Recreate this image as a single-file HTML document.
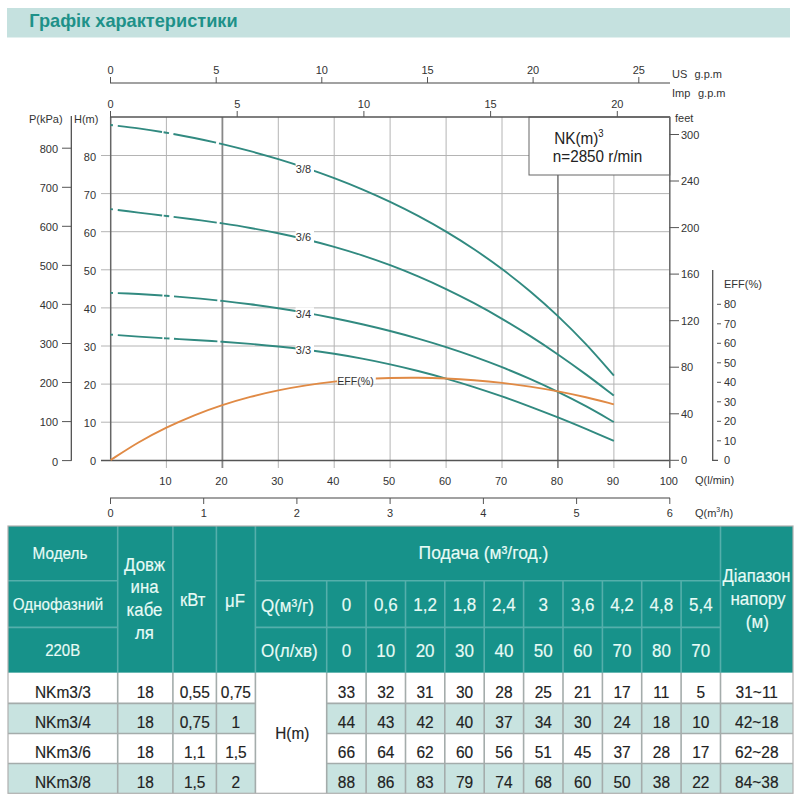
<!DOCTYPE html>
<html><head><meta charset="utf-8"><title>Графік характеристики</title>
<style>
html,body{margin:0;padding:0;background:#fff;width:800px;height:800px;overflow:hidden}
svg{display:block}
text{font-family:"Liberation Sans",sans-serif}
</style></head><body>
<svg width="800" height="800" viewBox="0 0 800 800">
<rect width="800" height="800" fill="#fff"/>
<rect x="7" y="8" width="783" height="29.5" fill="#c5e1df"/>
<text x="29.3" y="26.8" font-size="18.2" font-weight="bold" fill="#1e9189">Графік характеристики</text>
<line x1="110" y1="83" x2="670" y2="83" stroke="#444" stroke-width="1.1"/>
<line x1="110.5" y1="77" x2="110.5" y2="83" stroke="#555" stroke-width="1"/>
<text transform="translate(110.5,74.4) scale(1,1.07)" font-size="11" text-anchor="middle" fill="#333">0</text>
<line x1="216.2" y1="77" x2="216.2" y2="83" stroke="#555" stroke-width="1"/>
<text transform="translate(216.2,74.4) scale(1,1.07)" font-size="11" text-anchor="middle" fill="#333">5</text>
<line x1="321.8" y1="77" x2="321.8" y2="83" stroke="#555" stroke-width="1"/>
<text transform="translate(321.8,74.4) scale(1,1.07)" font-size="11" text-anchor="middle" fill="#333">10</text>
<line x1="427.5" y1="77" x2="427.5" y2="83" stroke="#555" stroke-width="1"/>
<text transform="translate(427.5,74.4) scale(1,1.07)" font-size="11" text-anchor="middle" fill="#333">15</text>
<line x1="533.1" y1="77" x2="533.1" y2="83" stroke="#555" stroke-width="1"/>
<text transform="translate(533.1,74.4) scale(1,1.07)" font-size="11" text-anchor="middle" fill="#333">20</text>
<line x1="638.8" y1="77" x2="638.8" y2="83" stroke="#555" stroke-width="1"/>
<text transform="translate(638.8,74.4) scale(1,1.07)" font-size="11" text-anchor="middle" fill="#333">25</text>
<text transform="translate(672,77.7) scale(1,1.07)" font-size="11" fill="#333">US</text>
<text transform="translate(694.5,77.7) scale(1,1.07)" font-size="11" fill="#333">g.p.m</text>
<text transform="translate(672,96.5) scale(1,1.07)" font-size="11" fill="#333">Imp</text>
<text transform="translate(698,96.5) scale(1,1.07)" font-size="11" fill="#333">g.p.m</text>
<line x1="110.5" y1="111" x2="110.5" y2="117" stroke="#555" stroke-width="1"/>
<text transform="translate(110.5,108) scale(1,1.07)" font-size="11" text-anchor="middle" fill="#333">0</text>
<line x1="237.2" y1="111" x2="237.2" y2="117" stroke="#555" stroke-width="1"/>
<text transform="translate(237.2,108) scale(1,1.07)" font-size="11" text-anchor="middle" fill="#333">5</text>
<line x1="363.9" y1="111" x2="363.9" y2="117" stroke="#555" stroke-width="1"/>
<text transform="translate(363.9,108) scale(1,1.07)" font-size="11" text-anchor="middle" fill="#333">10</text>
<line x1="490.6" y1="111" x2="490.6" y2="117" stroke="#555" stroke-width="1"/>
<text transform="translate(490.6,108) scale(1,1.07)" font-size="11" text-anchor="middle" fill="#333">15</text>
<line x1="617.3" y1="111" x2="617.3" y2="117" stroke="#555" stroke-width="1"/>
<text transform="translate(617.3,108) scale(1,1.07)" font-size="11" text-anchor="middle" fill="#333">20</text>
<line x1="166.4" y1="117" x2="166.4" y2="468" stroke="#b4b4b4" stroke-width="1"/>
<line x1="278.3" y1="117" x2="278.3" y2="468" stroke="#b4b4b4" stroke-width="1"/>
<line x1="334.2" y1="117" x2="334.2" y2="468" stroke="#b4b4b4" stroke-width="1"/>
<line x1="390.1" y1="117" x2="390.1" y2="468" stroke="#b4b4b4" stroke-width="1"/>
<line x1="446.1" y1="117" x2="446.1" y2="468" stroke="#b4b4b4" stroke-width="1"/>
<line x1="502.0" y1="117" x2="502.0" y2="468" stroke="#b4b4b4" stroke-width="1"/>
<line x1="613.9" y1="117" x2="613.9" y2="468" stroke="#b4b4b4" stroke-width="1"/>
<line x1="101" y1="422.2" x2="669.5" y2="422.2" stroke="#b4b4b4" stroke-width="1"/>
<line x1="101" y1="384.1" x2="669.5" y2="384.1" stroke="#b4b4b4" stroke-width="1"/>
<line x1="101" y1="346.0" x2="669.5" y2="346.0" stroke="#b4b4b4" stroke-width="1"/>
<line x1="101" y1="307.9" x2="669.5" y2="307.9" stroke="#b4b4b4" stroke-width="1"/>
<line x1="101" y1="269.8" x2="669.5" y2="269.8" stroke="#b4b4b4" stroke-width="1"/>
<line x1="101" y1="231.7" x2="669.5" y2="231.7" stroke="#b4b4b4" stroke-width="1"/>
<line x1="101" y1="193.6" x2="669.5" y2="193.6" stroke="#b4b4b4" stroke-width="1"/>
<line x1="101" y1="155.5" x2="669.5" y2="155.5" stroke="#b4b4b4" stroke-width="1"/>
<line x1="222.4" y1="117" x2="222.4" y2="468" stroke="#888" stroke-width="1.8"/>
<line x1="557.9" y1="117" x2="557.9" y2="468" stroke="#888" stroke-width="1.8"/>
<rect x="529" y="117" width="140.8" height="58" fill="#fff" stroke="#666" stroke-width="1"/>
<text transform="translate(554.2,143.7) scale(1,1.07)" font-size="15.3" fill="#222">NK(m)<tspan font-size="9.5" dy="-6.5">3</tspan></text>
<text transform="translate(552.8,162.4) scale(1,1.07)" font-size="15.25" fill="#222">n=2850 r/min</text>
<line x1="110.7" y1="117" x2="110.7" y2="460.5" stroke="#666" stroke-width="1.5"/>
<line x1="101" y1="460.5" x2="670" y2="460.5" stroke="#555" stroke-width="1.4"/>
<line x1="110" y1="117" x2="670" y2="117" stroke="#555" stroke-width="1.3"/>
<line x1="669.8" y1="117" x2="669.8" y2="468" stroke="#666" stroke-width="1.5"/>
<text transform="translate(96,465.3) scale(1,1.07)" font-size="11" text-anchor="end" fill="#333">0</text>
<text transform="translate(96,427.2) scale(1,1.07)" font-size="11" text-anchor="end" fill="#333">10</text>
<text transform="translate(96,389.1) scale(1,1.07)" font-size="11" text-anchor="end" fill="#333">20</text>
<text transform="translate(96,351.0) scale(1,1.07)" font-size="11" text-anchor="end" fill="#333">30</text>
<text transform="translate(96,312.9) scale(1,1.07)" font-size="11" text-anchor="end" fill="#333">40</text>
<text transform="translate(96,274.8) scale(1,1.07)" font-size="11" text-anchor="end" fill="#333">50</text>
<text transform="translate(96,236.7) scale(1,1.07)" font-size="11" text-anchor="end" fill="#333">60</text>
<text transform="translate(96,198.6) scale(1,1.07)" font-size="11" text-anchor="end" fill="#333">70</text>
<text transform="translate(96,160.5) scale(1,1.07)" font-size="11" text-anchor="end" fill="#333">80</text>
<text transform="translate(74,123) scale(1,1.07)" font-size="11" fill="#333">H(m)</text>
<text transform="translate(29,123) scale(1,1.07)" font-size="11" fill="#333">P(kPa)</text>
<line x1="71.3" y1="116" x2="71.3" y2="460.8" stroke="#444" stroke-width="1.2"/>
<line x1="62" y1="460.6" x2="71.5" y2="460.6" stroke="#555" stroke-width="1"/>
<text transform="translate(58,465.5) scale(1,1.07)" font-size="11" text-anchor="end" fill="#333">0</text>
<line x1="62" y1="421.6" x2="71.5" y2="421.6" stroke="#555" stroke-width="1"/>
<text transform="translate(58,426.4) scale(1,1.07)" font-size="11" text-anchor="end" fill="#333">100</text>
<line x1="62" y1="382.5" x2="71.5" y2="382.5" stroke="#555" stroke-width="1"/>
<text transform="translate(58,387.4) scale(1,1.07)" font-size="11" text-anchor="end" fill="#333">200</text>
<line x1="62" y1="343.5" x2="71.5" y2="343.5" stroke="#555" stroke-width="1"/>
<text transform="translate(58,348.4) scale(1,1.07)" font-size="11" text-anchor="end" fill="#333">300</text>
<line x1="62" y1="304.4" x2="71.5" y2="304.4" stroke="#555" stroke-width="1"/>
<text transform="translate(58,309.3) scale(1,1.07)" font-size="11" text-anchor="end" fill="#333">400</text>
<line x1="62" y1="265.4" x2="71.5" y2="265.4" stroke="#555" stroke-width="1"/>
<text transform="translate(58,270.2) scale(1,1.07)" font-size="11" text-anchor="end" fill="#333">500</text>
<line x1="62" y1="226.3" x2="71.5" y2="226.3" stroke="#555" stroke-width="1"/>
<text transform="translate(58,231.2) scale(1,1.07)" font-size="11" text-anchor="end" fill="#333">600</text>
<line x1="62" y1="187.3" x2="71.5" y2="187.3" stroke="#555" stroke-width="1"/>
<text transform="translate(58,192.2) scale(1,1.07)" font-size="11" text-anchor="end" fill="#333">700</text>
<line x1="62" y1="148.2" x2="71.5" y2="148.2" stroke="#555" stroke-width="1"/>
<text transform="translate(58,153.1) scale(1,1.07)" font-size="11" text-anchor="end" fill="#333">800</text>
<text transform="translate(165.4,485) scale(1,1.07)" font-size="11" text-anchor="middle" fill="#333">10</text>
<text transform="translate(221.4,485) scale(1,1.07)" font-size="11" text-anchor="middle" fill="#333">20</text>
<text transform="translate(277.3,485) scale(1,1.07)" font-size="11" text-anchor="middle" fill="#333">30</text>
<text transform="translate(333.2,485) scale(1,1.07)" font-size="11" text-anchor="middle" fill="#333">40</text>
<text transform="translate(389.1,485) scale(1,1.07)" font-size="11" text-anchor="middle" fill="#333">50</text>
<text transform="translate(445.1,485) scale(1,1.07)" font-size="11" text-anchor="middle" fill="#333">60</text>
<text transform="translate(501.0,485) scale(1,1.07)" font-size="11" text-anchor="middle" fill="#333">70</text>
<text transform="translate(556.9,485) scale(1,1.07)" font-size="11" text-anchor="middle" fill="#333">80</text>
<text transform="translate(612.9,485) scale(1,1.07)" font-size="11" text-anchor="middle" fill="#333">90</text>
<text transform="translate(668.8,485) scale(1,1.07)" font-size="11" text-anchor="middle" fill="#333">100</text>
<text transform="translate(695,484) scale(1,1.07)" font-size="11" fill="#333">Q(l/min)</text>
<line x1="110" y1="498" x2="670" y2="498" stroke="#444" stroke-width="1.1"/>
<line x1="110.5" y1="498" x2="110.5" y2="504" stroke="#555" stroke-width="1"/>
<text transform="translate(110.5,517) scale(1,1.07)" font-size="11" text-anchor="middle" fill="#333">0</text>
<line x1="203.7" y1="498" x2="203.7" y2="504" stroke="#555" stroke-width="1"/>
<text transform="translate(203.7,517) scale(1,1.07)" font-size="11" text-anchor="middle" fill="#333">1</text>
<line x1="296.9" y1="498" x2="296.9" y2="504" stroke="#555" stroke-width="1"/>
<text transform="translate(296.9,517) scale(1,1.07)" font-size="11" text-anchor="middle" fill="#333">2</text>
<line x1="390.1" y1="498" x2="390.1" y2="504" stroke="#555" stroke-width="1"/>
<text transform="translate(390.1,517) scale(1,1.07)" font-size="11" text-anchor="middle" fill="#333">3</text>
<line x1="483.4" y1="498" x2="483.4" y2="504" stroke="#555" stroke-width="1"/>
<text transform="translate(483.4,517) scale(1,1.07)" font-size="11" text-anchor="middle" fill="#333">4</text>
<line x1="576.6" y1="498" x2="576.6" y2="504" stroke="#555" stroke-width="1"/>
<text transform="translate(576.6,517) scale(1,1.07)" font-size="11" text-anchor="middle" fill="#333">5</text>
<line x1="669.8" y1="498" x2="669.8" y2="504" stroke="#555" stroke-width="1"/>
<text transform="translate(669.8,517) scale(1,1.07)" font-size="11" text-anchor="middle" fill="#333">6</text>
<text transform="translate(695,516.5) scale(1,1.07)" font-size="11" fill="#333">Q(m<tspan font-size="7" dy="-4">3</tspan><tspan dy="4">/h)</tspan></text>
<line x1="669.5" y1="460.3" x2="679" y2="460.3" stroke="#555" stroke-width="1"/>
<text transform="translate(681,464.3) scale(1,1.07)" font-size="11" fill="#333">0</text>
<line x1="669.5" y1="413.8" x2="679" y2="413.8" stroke="#555" stroke-width="1"/>
<text transform="translate(681,417.8) scale(1,1.07)" font-size="11" fill="#333">40</text>
<line x1="669.5" y1="367.2" x2="679" y2="367.2" stroke="#555" stroke-width="1"/>
<text transform="translate(681,371.2) scale(1,1.07)" font-size="11" fill="#333">80</text>
<line x1="669.5" y1="320.7" x2="679" y2="320.7" stroke="#555" stroke-width="1"/>
<text transform="translate(681,324.7) scale(1,1.07)" font-size="11" fill="#333">120</text>
<line x1="669.5" y1="274.1" x2="679" y2="274.1" stroke="#555" stroke-width="1"/>
<text transform="translate(681,278.1) scale(1,1.07)" font-size="11" fill="#333">160</text>
<line x1="669.5" y1="227.6" x2="679" y2="227.6" stroke="#555" stroke-width="1"/>
<text transform="translate(681,231.6) scale(1,1.07)" font-size="11" fill="#333">200</text>
<line x1="669.5" y1="181.0" x2="679" y2="181.0" stroke="#555" stroke-width="1"/>
<text transform="translate(681,185.0) scale(1,1.07)" font-size="11" fill="#333">240</text>
<line x1="669.5" y1="134.5" x2="679" y2="134.5" stroke="#555" stroke-width="1"/>
<text transform="translate(681,138.5) scale(1,1.07)" font-size="11" fill="#333">300</text>
<text transform="translate(675,122) scale(1,1.07)" font-size="11" fill="#333">feet</text>
<polyline points="712.7,270 712.7,460.3 718,460.3" fill="none" stroke="#555" stroke-width="1.3"/>
<text transform="translate(724,464.3) scale(1,1.07)" font-size="11" fill="#333">0</text>
<line x1="717" y1="440.8" x2="721" y2="440.8" stroke="#555" stroke-width="1"/>
<text transform="translate(724,444.8) scale(1,1.07)" font-size="11" fill="#333">10</text>
<line x1="717" y1="421.3" x2="721" y2="421.3" stroke="#555" stroke-width="1"/>
<text transform="translate(724,425.3) scale(1,1.07)" font-size="11" fill="#333">20</text>
<line x1="717" y1="401.8" x2="721" y2="401.8" stroke="#555" stroke-width="1"/>
<text transform="translate(724,405.8) scale(1,1.07)" font-size="11" fill="#333">30</text>
<line x1="717" y1="382.3" x2="721" y2="382.3" stroke="#555" stroke-width="1"/>
<text transform="translate(724,386.3) scale(1,1.07)" font-size="11" fill="#333">40</text>
<line x1="717" y1="362.8" x2="721" y2="362.8" stroke="#555" stroke-width="1"/>
<text transform="translate(724,366.8) scale(1,1.07)" font-size="11" fill="#333">50</text>
<line x1="717" y1="343.3" x2="721" y2="343.3" stroke="#555" stroke-width="1"/>
<text transform="translate(724,347.3) scale(1,1.07)" font-size="11" fill="#333">60</text>
<line x1="717" y1="323.8" x2="721" y2="323.8" stroke="#555" stroke-width="1"/>
<text transform="translate(724,327.8) scale(1,1.07)" font-size="11" fill="#333">70</text>
<line x1="717" y1="304.3" x2="721" y2="304.3" stroke="#555" stroke-width="1"/>
<text transform="translate(724,308.3) scale(1,1.07)" font-size="11" fill="#333">80</text>
<text transform="translate(724,288) scale(1,1.07)" font-size="11" fill="#333">EFF(%)</text>
<path d="M110.50,124.99 C115.16,125.56 129.14,127.08 138.47,128.37 C147.79,129.66 157.11,131.11 166.43,132.71 C175.75,134.31 185.07,136.07 194.39,137.97 C203.72,139.87 213.04,141.92 222.36,144.11 C231.68,146.31 241.00,148.66 250.32,151.16 C259.65,153.66 268.97,156.31 278.29,159.13 C287.61,161.95 296.93,164.93 306.25,168.09 C315.58,171.26 324.90,174.58 334.22,178.13 C343.54,181.67 352.86,185.38 362.19,189.34 C371.51,193.30 380.83,197.46 390.15,201.89 C399.47,206.32 408.79,210.96 418.12,215.92 C427.44,220.88 436.76,226.08 446.08,231.64 C455.40,237.19 464.72,243.03 474.05,249.26 C483.37,255.49 492.69,262.04 502.01,269.04 C511.33,276.03 520.65,283.38 529.98,291.24 C539.30,299.09 548.62,307.35 557.94,316.17 C567.26,324.99 576.58,334.26 585.90,344.15 C595.23,354.05 609.21,370.32 613.87,375.55" fill="none" stroke="#318a80" stroke-width="1.9" stroke-dasharray="2.5 5 44.5 1.6 5.5 4.5 43.5 3 2000"/>
<path d="M110.50,209.12 C115.16,209.70 129.14,211.45 138.47,212.59 C147.79,213.73 157.11,214.82 166.43,215.97 C175.75,217.12 185.07,218.26 194.39,219.51 C203.72,220.75 213.04,222.02 222.36,223.43 C231.68,224.84 241.00,226.31 250.32,227.95 C259.65,229.58 268.97,231.32 278.29,233.24 C287.61,235.17 296.93,237.22 306.25,239.48 C315.58,241.75 324.90,244.17 334.22,246.81 C343.54,249.46 352.86,252.29 362.19,255.35 C371.51,258.41 380.83,261.68 390.15,265.19 C399.47,268.70 408.79,272.43 418.12,276.42 C427.44,280.40 436.76,284.61 446.08,289.08 C455.40,293.54 464.72,298.25 474.05,303.21 C483.37,308.17 492.69,313.38 502.01,318.83 C511.33,324.28 520.65,329.98 529.98,335.92 C539.30,341.86 548.62,348.04 557.94,354.45 C567.26,360.86 576.58,367.51 585.90,374.37 C595.23,381.22 609.21,392.06 613.87,395.59" fill="none" stroke="#318a80" stroke-width="1.9" stroke-dasharray="2.5 5 44.5 1.6 5.5 4.5 43.5 3 2000"/>
<path d="M110.50,292.85 C115.16,293.05 129.14,293.57 138.47,294.06 C147.79,294.55 157.11,295.13 166.43,295.80 C175.75,296.47 185.07,297.23 194.39,298.08 C203.72,298.94 213.04,299.88 222.36,300.91 C231.68,301.95 241.00,303.08 250.32,304.31 C259.65,305.55 268.97,306.87 278.29,308.31 C287.61,309.75 296.93,311.28 306.25,312.93 C315.58,314.59 324.90,316.34 334.22,318.23 C343.54,320.11 352.86,322.11 362.19,324.24 C371.51,326.37 380.83,328.63 390.15,331.03 C399.47,333.43 408.79,335.96 418.12,338.65 C427.44,341.34 436.76,344.16 446.08,347.17 C455.40,350.17 464.72,353.32 474.05,356.67 C483.37,360.01 492.69,363.52 502.01,367.23 C511.33,370.94 520.65,374.83 529.98,378.94 C539.30,383.06 548.62,387.36 557.94,391.90 C567.26,396.45 576.58,401.20 585.90,406.21 C595.23,411.23 609.21,419.36 613.87,421.99" fill="none" stroke="#318a80" stroke-width="1.9" stroke-dasharray="2.5 5 44.5 1.6 5.5 4.5 43.5 3 2000"/>
<path d="M110.50,334.64 C115.16,334.98 129.14,336.02 138.47,336.64 C147.79,337.26 157.11,337.78 166.43,338.34 C175.75,338.90 185.07,339.41 194.39,339.98 C203.72,340.55 213.04,341.11 222.36,341.77 C231.68,342.42 241.00,343.10 250.32,343.89 C259.65,344.68 268.97,345.53 278.29,346.51 C287.61,347.49 296.93,348.56 306.25,349.77 C315.58,350.98 324.90,352.30 334.22,353.77 C343.54,355.25 352.86,356.85 362.19,358.61 C371.51,360.36 380.83,362.27 390.15,364.33 C399.47,366.39 408.79,368.60 418.12,370.97 C427.44,373.34 436.76,375.87 446.08,378.55 C455.40,381.23 464.72,384.06 474.05,387.04 C483.37,390.01 492.69,393.15 502.01,396.40 C511.33,399.66 520.65,403.06 529.98,406.57 C539.30,410.08 548.62,413.72 557.94,417.45 C567.26,421.17 576.58,425.02 585.90,428.92 C595.23,432.82 609.21,438.85 613.87,440.84" fill="none" stroke="#318a80" stroke-width="1.9" stroke-dasharray="2.5 5 44.5 1.6 5.5 4.5 43.5 3 2000"/>
<path d="M110.50,460.07 C115.16,457.14 129.14,447.89 138.47,442.49 C147.79,437.09 157.11,432.20 166.43,427.67 C175.75,423.14 185.07,419.06 194.39,415.30 C203.72,411.55 213.04,408.19 222.36,405.12 C231.68,402.04 241.00,399.33 250.32,396.87 C259.65,394.40 268.97,392.25 278.29,390.33 C287.61,388.41 296.93,386.76 306.25,385.32 C315.58,383.88 324.90,382.69 334.22,381.68 C343.54,380.67 352.86,379.89 362.19,379.27 C371.51,378.65 380.83,378.24 390.15,377.98 C399.47,377.73 408.79,377.66 418.12,377.74 C427.44,377.82 436.76,378.08 446.08,378.49 C455.40,378.90 464.72,379.47 474.05,380.20 C483.37,380.94 492.69,381.82 502.01,382.89 C511.33,383.95 520.65,385.17 529.98,386.57 C539.30,387.98 548.62,389.54 557.94,391.32 C567.26,393.09 576.58,395.03 585.90,397.21 C595.23,399.38 609.21,403.16 613.87,404.35" fill="none" stroke="#e08a45" stroke-width="1.9"/>
<rect x="295.6" y="162.2" width="18.4" height="14" fill="#fff"/>
<text transform="translate(303.5,173.0) scale(1,1.07)" font-size="11" text-anchor="middle" fill="#333">3/8</text>
<rect x="295.6" y="230.5" width="18.4" height="14" fill="#fff"/>
<text transform="translate(303.5,241.3) scale(1,1.07)" font-size="11" text-anchor="middle" fill="#333">3/6</text>
<rect x="295.6" y="307.3" width="18.4" height="14" fill="#fff"/>
<text transform="translate(303.5,318.1) scale(1,1.07)" font-size="11" text-anchor="middle" fill="#333">3/4</text>
<rect x="295.6" y="343.3" width="18.4" height="14" fill="#fff"/>
<text transform="translate(303.5,354.1) scale(1,1.07)" font-size="11" text-anchor="middle" fill="#333">3/3</text>
<rect x="337" y="372" width="38.8" height="11.5" fill="#fff"/>
<text transform="translate(337.2,384.8) scale(1,1.07)" font-size="10.6" fill="#333">EFF(%)</text>
<rect x="8" y="526" width="785" height="146.79999999999995" fill="#17928a"/>
<rect x="8" y="672.8" width="785" height="30.600000000000023" fill="#fff"/>
<rect x="8" y="703.4" width="785" height="30.100000000000023" fill="#c8e3e0"/>
<rect x="8" y="733.5" width="785" height="30.0" fill="#fff"/>
<rect x="8" y="763.5" width="785" height="29.799999999999955" fill="#c8e3e0"/>
<rect x="255.4" y="672.8" width="71.29999999999998" height="120.5" fill="#fff"/>
<line x1="117.7" y1="526" x2="117.7" y2="672.8" stroke="#55afab" stroke-width="1.6"/>
<line x1="172.9" y1="526" x2="172.9" y2="672.8" stroke="#55afab" stroke-width="1.6"/>
<line x1="216.4" y1="526" x2="216.4" y2="672.8" stroke="#55afab" stroke-width="1.6"/>
<line x1="255.4" y1="526" x2="255.4" y2="672.8" stroke="#55afab" stroke-width="1.6"/>
<line x1="720.5" y1="526" x2="720.5" y2="672.8" stroke="#55afab" stroke-width="1.6"/>
<line x1="8" y1="580.8" x2="117.7" y2="580.8" stroke="#55afab" stroke-width="1.6"/>
<line x1="255.4" y1="580.8" x2="720.5" y2="580.8" stroke="#55afab" stroke-width="1.6"/>
<line x1="8" y1="627.4" x2="117.7" y2="627.4" stroke="#55afab" stroke-width="1.6"/>
<line x1="255.4" y1="627.4" x2="720.5" y2="627.4" stroke="#55afab" stroke-width="1.6"/>
<line x1="326.7" y1="580.8" x2="326.7" y2="672.8" stroke="#55afab" stroke-width="1.6"/>
<line x1="366.1" y1="580.8" x2="366.1" y2="672.8" stroke="#55afab" stroke-width="1.6"/>
<line x1="405.5" y1="580.8" x2="405.5" y2="672.8" stroke="#55afab" stroke-width="1.6"/>
<line x1="444.8" y1="580.8" x2="444.8" y2="672.8" stroke="#55afab" stroke-width="1.6"/>
<line x1="484.2" y1="580.8" x2="484.2" y2="672.8" stroke="#55afab" stroke-width="1.6"/>
<line x1="523.6" y1="580.8" x2="523.6" y2="672.8" stroke="#55afab" stroke-width="1.6"/>
<line x1="563.0" y1="580.8" x2="563.0" y2="672.8" stroke="#55afab" stroke-width="1.6"/>
<line x1="602.4" y1="580.8" x2="602.4" y2="672.8" stroke="#55afab" stroke-width="1.6"/>
<line x1="641.7" y1="580.8" x2="641.7" y2="672.8" stroke="#55afab" stroke-width="1.6"/>
<line x1="681.1" y1="580.8" x2="681.1" y2="672.8" stroke="#55afab" stroke-width="1.6"/>
<line x1="117.7" y1="672.8" x2="117.7" y2="793.3" stroke="#a4acab" stroke-width="1.6"/>
<line x1="172.9" y1="672.8" x2="172.9" y2="793.3" stroke="#a4acab" stroke-width="1.6"/>
<line x1="216.4" y1="672.8" x2="216.4" y2="793.3" stroke="#a4acab" stroke-width="1.6"/>
<line x1="255.4" y1="672.8" x2="255.4" y2="793.3" stroke="#a4acab" stroke-width="1.6"/>
<line x1="326.7" y1="672.8" x2="326.7" y2="793.3" stroke="#a4acab" stroke-width="1.6"/>
<line x1="366.1" y1="672.8" x2="366.1" y2="793.3" stroke="#a4acab" stroke-width="1.6"/>
<line x1="405.5" y1="672.8" x2="405.5" y2="793.3" stroke="#a4acab" stroke-width="1.6"/>
<line x1="444.8" y1="672.8" x2="444.8" y2="793.3" stroke="#a4acab" stroke-width="1.6"/>
<line x1="484.2" y1="672.8" x2="484.2" y2="793.3" stroke="#a4acab" stroke-width="1.6"/>
<line x1="523.6" y1="672.8" x2="523.6" y2="793.3" stroke="#a4acab" stroke-width="1.6"/>
<line x1="563.0" y1="672.8" x2="563.0" y2="793.3" stroke="#a4acab" stroke-width="1.6"/>
<line x1="602.4" y1="672.8" x2="602.4" y2="793.3" stroke="#a4acab" stroke-width="1.6"/>
<line x1="641.7" y1="672.8" x2="641.7" y2="793.3" stroke="#a4acab" stroke-width="1.6"/>
<line x1="681.1" y1="672.8" x2="681.1" y2="793.3" stroke="#a4acab" stroke-width="1.6"/>
<line x1="720.5" y1="672.8" x2="720.5" y2="793.3" stroke="#a4acab" stroke-width="1.6"/>
<line x1="8" y1="703.4" x2="255.4" y2="703.4" stroke="#a4acab" stroke-width="1.6"/>
<line x1="326.7" y1="703.4" x2="793" y2="703.4" stroke="#a4acab" stroke-width="1.6"/>
<line x1="8" y1="733.5" x2="255.4" y2="733.5" stroke="#a4acab" stroke-width="1.6"/>
<line x1="326.7" y1="733.5" x2="793" y2="733.5" stroke="#a4acab" stroke-width="1.6"/>
<line x1="8" y1="763.5" x2="255.4" y2="763.5" stroke="#a4acab" stroke-width="1.6"/>
<line x1="326.7" y1="763.5" x2="793" y2="763.5" stroke="#a4acab" stroke-width="1.6"/>
<rect x="8" y="526" width="785" height="267.29999999999995" fill="none" stroke="#b0b0b0" stroke-width="1.2"/>
<text transform="translate(60.0,559.2) scale(1,1.1)" font-size="15.3" text-anchor="middle" fill="#e8fbf6" stroke="#e8fbf6" stroke-width="0.15">Модель</text>
<text transform="translate(58.0,610.0) scale(1,1.1)" font-size="15.2" text-anchor="middle" fill="#e8fbf6" stroke="#e8fbf6" stroke-width="0.15">Однофазний</text>
<text transform="translate(62.7,656.3) scale(1,1.1)" font-size="15" text-anchor="middle" fill="#e8fbf6" stroke="#e8fbf6" stroke-width="0.15">220В</text>
<text transform="translate(144.5,570.5) scale(1,1.1)" font-size="16.8" text-anchor="middle" fill="#e8fbf6" stroke="#e8fbf6" stroke-width="0.15">Довж</text>
<text transform="translate(144.5,593.4) scale(1,1.1)" font-size="16.8" text-anchor="middle" fill="#e8fbf6" stroke="#e8fbf6" stroke-width="0.15">ина</text>
<text transform="translate(144.5,616.3) scale(1,1.1)" font-size="16.8" text-anchor="middle" fill="#e8fbf6" stroke="#e8fbf6" stroke-width="0.15">кабе</text>
<text transform="translate(144.5,639.2) scale(1,1.1)" font-size="16.8" text-anchor="middle" fill="#e8fbf6" stroke="#e8fbf6" stroke-width="0.15">ля</text>
<text transform="translate(192.7,605.8) scale(1,1.1)" font-size="16.6" text-anchor="middle" fill="#e8fbf6" stroke="#e8fbf6" stroke-width="0.15">кВт</text>
<text transform="translate(235.0,606.5) scale(1,1.1)" font-size="16.8" text-anchor="middle" fill="#e8fbf6" stroke="#e8fbf6" stroke-width="0.15">μF</text>
<text transform="translate(483.5,559.0) scale(1,1.1)" font-size="17.5" text-anchor="middle" fill="#e8fbf6" stroke="#e8fbf6" stroke-width="0.15">Подача (м³/год.)</text>
<text transform="translate(261.0,611.5) scale(1,1.1)" font-size="17" text-anchor="start" fill="#e8fbf6" stroke="#e8fbf6" stroke-width="0.15">Q(м³/г)</text>
<text transform="translate(261.0,657.2) scale(1,1.1)" font-size="17" text-anchor="start" fill="#e8fbf6" stroke="#e8fbf6" stroke-width="0.15">О(л/хв)</text>
<text transform="translate(346.4,611.3) scale(1,1.1)" font-size="17" text-anchor="middle" fill="#e8fbf6" stroke="#e8fbf6" stroke-width="0.15">0</text>
<text transform="translate(346.4,657.1) scale(1,1.1)" font-size="17" text-anchor="middle" fill="#e8fbf6" stroke="#e8fbf6" stroke-width="0.15">0</text>
<text transform="translate(385.8,611.3) scale(1,1.1)" font-size="17" text-anchor="middle" fill="#e8fbf6" stroke="#e8fbf6" stroke-width="0.15">0,6</text>
<text transform="translate(385.8,657.1) scale(1,1.1)" font-size="17" text-anchor="middle" fill="#e8fbf6" stroke="#e8fbf6" stroke-width="0.15">10</text>
<text transform="translate(425.1,611.3) scale(1,1.1)" font-size="17" text-anchor="middle" fill="#e8fbf6" stroke="#e8fbf6" stroke-width="0.15">1,2</text>
<text transform="translate(425.1,657.1) scale(1,1.1)" font-size="17" text-anchor="middle" fill="#e8fbf6" stroke="#e8fbf6" stroke-width="0.15">20</text>
<text transform="translate(464.5,611.3) scale(1,1.1)" font-size="17" text-anchor="middle" fill="#e8fbf6" stroke="#e8fbf6" stroke-width="0.15">1,8</text>
<text transform="translate(464.5,657.1) scale(1,1.1)" font-size="17" text-anchor="middle" fill="#e8fbf6" stroke="#e8fbf6" stroke-width="0.15">30</text>
<text transform="translate(503.9,611.3) scale(1,1.1)" font-size="17" text-anchor="middle" fill="#e8fbf6" stroke="#e8fbf6" stroke-width="0.15">2,4</text>
<text transform="translate(503.9,657.1) scale(1,1.1)" font-size="17" text-anchor="middle" fill="#e8fbf6" stroke="#e8fbf6" stroke-width="0.15">40</text>
<text transform="translate(543.3,611.3) scale(1,1.1)" font-size="17" text-anchor="middle" fill="#e8fbf6" stroke="#e8fbf6" stroke-width="0.15">3</text>
<text transform="translate(543.3,657.1) scale(1,1.1)" font-size="17" text-anchor="middle" fill="#e8fbf6" stroke="#e8fbf6" stroke-width="0.15">50</text>
<text transform="translate(582.7,611.3) scale(1,1.1)" font-size="17" text-anchor="middle" fill="#e8fbf6" stroke="#e8fbf6" stroke-width="0.15">3,6</text>
<text transform="translate(582.7,657.1) scale(1,1.1)" font-size="17" text-anchor="middle" fill="#e8fbf6" stroke="#e8fbf6" stroke-width="0.15">60</text>
<text transform="translate(622.0,611.3) scale(1,1.1)" font-size="17" text-anchor="middle" fill="#e8fbf6" stroke="#e8fbf6" stroke-width="0.15">4,2</text>
<text transform="translate(622.0,657.1) scale(1,1.1)" font-size="17" text-anchor="middle" fill="#e8fbf6" stroke="#e8fbf6" stroke-width="0.15">70</text>
<text transform="translate(661.4,611.3) scale(1,1.1)" font-size="17" text-anchor="middle" fill="#e8fbf6" stroke="#e8fbf6" stroke-width="0.15">4,8</text>
<text transform="translate(661.4,657.1) scale(1,1.1)" font-size="17" text-anchor="middle" fill="#e8fbf6" stroke="#e8fbf6" stroke-width="0.15">80</text>
<text transform="translate(700.8,611.3) scale(1,1.1)" font-size="17" text-anchor="middle" fill="#e8fbf6" stroke="#e8fbf6" stroke-width="0.15">5,4</text>
<text transform="translate(700.8,657.1) scale(1,1.1)" font-size="17" text-anchor="middle" fill="#e8fbf6" stroke="#e8fbf6" stroke-width="0.15">70</text>
<text transform="translate(756.5,582.2) scale(1,1.1)" font-size="16.6" text-anchor="middle" fill="#e8fbf6" stroke="#e8fbf6" stroke-width="0.15">Діапазон</text>
<text transform="translate(758.0,605.2) scale(1,1.1)" font-size="17" text-anchor="middle" fill="#e8fbf6" stroke="#e8fbf6" stroke-width="0.15">напору</text>
<text transform="translate(757.3,628.3) scale(1,1.1)" font-size="17" text-anchor="middle" fill="#e8fbf6" stroke="#e8fbf6" stroke-width="0.15">(м)</text>
<text transform="translate(62.9,697.7) scale(1,1.1)" font-size="15.5" text-anchor="middle" fill="#222" stroke="#222" stroke-width="0.15">NKm3/3</text>
<text transform="translate(145.3,697.7) scale(1,1.1)" font-size="15.5" text-anchor="middle" fill="#222" stroke="#222" stroke-width="0.15">18</text>
<text transform="translate(194.7,697.7) scale(1,1.1)" font-size="15.5" text-anchor="middle" fill="#222" stroke="#222" stroke-width="0.15">0,55</text>
<text transform="translate(235.9,697.7) scale(1,1.1)" font-size="15.5" text-anchor="middle" fill="#222" stroke="#222" stroke-width="0.15">0,75</text>
<text transform="translate(346.4,697.7) scale(1,1.1)" font-size="15.5" text-anchor="middle" fill="#222" stroke="#222" stroke-width="0.15">33</text>
<text transform="translate(385.8,697.7) scale(1,1.1)" font-size="15.5" text-anchor="middle" fill="#222" stroke="#222" stroke-width="0.15">32</text>
<text transform="translate(425.1,697.7) scale(1,1.1)" font-size="15.5" text-anchor="middle" fill="#222" stroke="#222" stroke-width="0.15">31</text>
<text transform="translate(464.5,697.7) scale(1,1.1)" font-size="15.5" text-anchor="middle" fill="#222" stroke="#222" stroke-width="0.15">30</text>
<text transform="translate(503.9,697.7) scale(1,1.1)" font-size="15.5" text-anchor="middle" fill="#222" stroke="#222" stroke-width="0.15">28</text>
<text transform="translate(543.3,697.7) scale(1,1.1)" font-size="15.5" text-anchor="middle" fill="#222" stroke="#222" stroke-width="0.15">25</text>
<text transform="translate(582.7,697.7) scale(1,1.1)" font-size="15.5" text-anchor="middle" fill="#222" stroke="#222" stroke-width="0.15">21</text>
<text transform="translate(622.0,697.7) scale(1,1.1)" font-size="15.5" text-anchor="middle" fill="#222" stroke="#222" stroke-width="0.15">17</text>
<text transform="translate(661.4,697.7) scale(1,1.1)" font-size="15.5" text-anchor="middle" fill="#222" stroke="#222" stroke-width="0.15">11</text>
<text transform="translate(700.8,697.7) scale(1,1.1)" font-size="15.5" text-anchor="middle" fill="#222" stroke="#222" stroke-width="0.15">5</text>
<text transform="translate(756.8,697.7) scale(1,1.1)" font-size="15.5" text-anchor="middle" fill="#222" stroke="#222" stroke-width="0.15">31~11</text>
<text transform="translate(62.9,728.1) scale(1,1.1)" font-size="15.5" text-anchor="middle" fill="#222" stroke="#222" stroke-width="0.15">NKm3/4</text>
<text transform="translate(145.3,728.1) scale(1,1.1)" font-size="15.5" text-anchor="middle" fill="#222" stroke="#222" stroke-width="0.15">18</text>
<text transform="translate(194.7,728.1) scale(1,1.1)" font-size="15.5" text-anchor="middle" fill="#222" stroke="#222" stroke-width="0.15">0,75</text>
<text transform="translate(235.9,728.1) scale(1,1.1)" font-size="15.5" text-anchor="middle" fill="#222" stroke="#222" stroke-width="0.15">1</text>
<text transform="translate(346.4,728.1) scale(1,1.1)" font-size="15.5" text-anchor="middle" fill="#222" stroke="#222" stroke-width="0.15">44</text>
<text transform="translate(385.8,728.1) scale(1,1.1)" font-size="15.5" text-anchor="middle" fill="#222" stroke="#222" stroke-width="0.15">43</text>
<text transform="translate(425.1,728.1) scale(1,1.1)" font-size="15.5" text-anchor="middle" fill="#222" stroke="#222" stroke-width="0.15">42</text>
<text transform="translate(464.5,728.1) scale(1,1.1)" font-size="15.5" text-anchor="middle" fill="#222" stroke="#222" stroke-width="0.15">40</text>
<text transform="translate(503.9,728.1) scale(1,1.1)" font-size="15.5" text-anchor="middle" fill="#222" stroke="#222" stroke-width="0.15">37</text>
<text transform="translate(543.3,728.1) scale(1,1.1)" font-size="15.5" text-anchor="middle" fill="#222" stroke="#222" stroke-width="0.15">34</text>
<text transform="translate(582.7,728.1) scale(1,1.1)" font-size="15.5" text-anchor="middle" fill="#222" stroke="#222" stroke-width="0.15">30</text>
<text transform="translate(622.0,728.1) scale(1,1.1)" font-size="15.5" text-anchor="middle" fill="#222" stroke="#222" stroke-width="0.15">24</text>
<text transform="translate(661.4,728.1) scale(1,1.1)" font-size="15.5" text-anchor="middle" fill="#222" stroke="#222" stroke-width="0.15">18</text>
<text transform="translate(700.8,728.1) scale(1,1.1)" font-size="15.5" text-anchor="middle" fill="#222" stroke="#222" stroke-width="0.15">10</text>
<text transform="translate(756.8,728.1) scale(1,1.1)" font-size="15.5" text-anchor="middle" fill="#222" stroke="#222" stroke-width="0.15">42~18</text>
<text transform="translate(62.9,758.1) scale(1,1.1)" font-size="15.5" text-anchor="middle" fill="#222" stroke="#222" stroke-width="0.15">NKm3/6</text>
<text transform="translate(145.3,758.1) scale(1,1.1)" font-size="15.5" text-anchor="middle" fill="#222" stroke="#222" stroke-width="0.15">18</text>
<text transform="translate(194.7,758.1) scale(1,1.1)" font-size="15.5" text-anchor="middle" fill="#222" stroke="#222" stroke-width="0.15">1,1</text>
<text transform="translate(235.9,758.1) scale(1,1.1)" font-size="15.5" text-anchor="middle" fill="#222" stroke="#222" stroke-width="0.15">1,5</text>
<text transform="translate(346.4,758.1) scale(1,1.1)" font-size="15.5" text-anchor="middle" fill="#222" stroke="#222" stroke-width="0.15">66</text>
<text transform="translate(385.8,758.1) scale(1,1.1)" font-size="15.5" text-anchor="middle" fill="#222" stroke="#222" stroke-width="0.15">64</text>
<text transform="translate(425.1,758.1) scale(1,1.1)" font-size="15.5" text-anchor="middle" fill="#222" stroke="#222" stroke-width="0.15">62</text>
<text transform="translate(464.5,758.1) scale(1,1.1)" font-size="15.5" text-anchor="middle" fill="#222" stroke="#222" stroke-width="0.15">60</text>
<text transform="translate(503.9,758.1) scale(1,1.1)" font-size="15.5" text-anchor="middle" fill="#222" stroke="#222" stroke-width="0.15">56</text>
<text transform="translate(543.3,758.1) scale(1,1.1)" font-size="15.5" text-anchor="middle" fill="#222" stroke="#222" stroke-width="0.15">51</text>
<text transform="translate(582.7,758.1) scale(1,1.1)" font-size="15.5" text-anchor="middle" fill="#222" stroke="#222" stroke-width="0.15">45</text>
<text transform="translate(622.0,758.1) scale(1,1.1)" font-size="15.5" text-anchor="middle" fill="#222" stroke="#222" stroke-width="0.15">37</text>
<text transform="translate(661.4,758.1) scale(1,1.1)" font-size="15.5" text-anchor="middle" fill="#222" stroke="#222" stroke-width="0.15">28</text>
<text transform="translate(700.8,758.1) scale(1,1.1)" font-size="15.5" text-anchor="middle" fill="#222" stroke="#222" stroke-width="0.15">17</text>
<text transform="translate(756.8,758.1) scale(1,1.1)" font-size="15.5" text-anchor="middle" fill="#222" stroke="#222" stroke-width="0.15">62~28</text>
<text transform="translate(62.9,788.0) scale(1,1.1)" font-size="15.5" text-anchor="middle" fill="#222" stroke="#222" stroke-width="0.15">NKm3/8</text>
<text transform="translate(145.3,788.0) scale(1,1.1)" font-size="15.5" text-anchor="middle" fill="#222" stroke="#222" stroke-width="0.15">18</text>
<text transform="translate(194.7,788.0) scale(1,1.1)" font-size="15.5" text-anchor="middle" fill="#222" stroke="#222" stroke-width="0.15">1,5</text>
<text transform="translate(235.9,788.0) scale(1,1.1)" font-size="15.5" text-anchor="middle" fill="#222" stroke="#222" stroke-width="0.15">2</text>
<text transform="translate(346.4,788.0) scale(1,1.1)" font-size="15.5" text-anchor="middle" fill="#222" stroke="#222" stroke-width="0.15">88</text>
<text transform="translate(385.8,788.0) scale(1,1.1)" font-size="15.5" text-anchor="middle" fill="#222" stroke="#222" stroke-width="0.15">86</text>
<text transform="translate(425.1,788.0) scale(1,1.1)" font-size="15.5" text-anchor="middle" fill="#222" stroke="#222" stroke-width="0.15">83</text>
<text transform="translate(464.5,788.0) scale(1,1.1)" font-size="15.5" text-anchor="middle" fill="#222" stroke="#222" stroke-width="0.15">79</text>
<text transform="translate(503.9,788.0) scale(1,1.1)" font-size="15.5" text-anchor="middle" fill="#222" stroke="#222" stroke-width="0.15">74</text>
<text transform="translate(543.3,788.0) scale(1,1.1)" font-size="15.5" text-anchor="middle" fill="#222" stroke="#222" stroke-width="0.15">68</text>
<text transform="translate(582.7,788.0) scale(1,1.1)" font-size="15.5" text-anchor="middle" fill="#222" stroke="#222" stroke-width="0.15">60</text>
<text transform="translate(622.0,788.0) scale(1,1.1)" font-size="15.5" text-anchor="middle" fill="#222" stroke="#222" stroke-width="0.15">50</text>
<text transform="translate(661.4,788.0) scale(1,1.1)" font-size="15.5" text-anchor="middle" fill="#222" stroke="#222" stroke-width="0.15">38</text>
<text transform="translate(700.8,788.0) scale(1,1.1)" font-size="15.5" text-anchor="middle" fill="#222" stroke="#222" stroke-width="0.15">22</text>
<text transform="translate(756.8,788.0) scale(1,1.1)" font-size="15.5" text-anchor="middle" fill="#222" stroke="#222" stroke-width="0.15">84~38</text>
<text transform="translate(292.3,738.5) scale(1,1.1)" font-size="15.3" text-anchor="middle" fill="#222" stroke="#222" stroke-width="0.15">H(m)</text>
</svg>
</body></html>
